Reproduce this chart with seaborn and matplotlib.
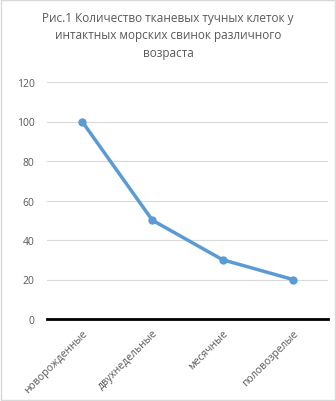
import matplotlib
matplotlib.use("Agg")
import matplotlib.pyplot as plt
import seaborn as sns
import pandas as pd
import numpy as np

categories = ["новорожденные", "двухнедельные", "месячные", "половозрелые"]
values = [100, 50, 30, 20]
yticks = [0, 20, 40, 60, 80, 100, 120]
title = "Рис.1 Количество тканевых тучных клеток у\nинтактных морских свинок различного\nвозраста"

sns.set_theme(style="white")
plt.rcParams['font.family'] = ['Open Sans', 'DejaVu Sans']

df = pd.DataFrame({"cat": categories, "val": values})

fig = plt.figure(figsize=(3.36, 4.02), dpi=100)
fig.patch.set_facecolor("white")
ax = fig.add_axes([47/336, 1-320/402, (328-47)/336, (320-83)/402])

sns.lineplot(data=df, x="cat", y="val", ax=ax, color="#5B9BD5", linewidth=2.5,
             marker="o", markersize=6, markeredgewidth=0, sort=False)

ax.set_xlim(-0.5, len(categories) - 0.5)
ax.set_ylim(0, 120)
ax.set_yticks(yticks)
ax.set_yticklabels([str(v) for v in yticks], color="#595959", fontsize=7.5)
ax.yaxis.grid(True, color="#D9D9D9", linewidth=0.8)
ax.set_axisbelow(True)
ax.tick_params(axis="y", length=0, pad=9)

ax.set_xticks(range(len(categories)))
ax.set_xticklabels(categories, rotation=45, ha="right", rotation_mode="anchor",
                   color="#595959", fontsize=7.5)
ax.tick_params(axis="x", which="major", length=0, pad=6)
ax.set_xticks(np.arange(-0.5, len(categories)), minor=True)
ax.tick_params(axis="x", which="minor", length=3, width=1.5, color="black", direction="out")

for s in ["top", "right", "left"]:
    ax.spines[s].set_visible(False)
ax.spines["bottom"].set_color("black")
ax.spines["bottom"].set_linewidth(2)
ax.set_xlabel("")
ax.set_ylabel("")

fig.text(0.5, 1-36/402, title, ha="center", va="center", fontsize=8.5,
         color="#595959", linespacing=1.45)

border = plt.Rectangle((0.002, 0.002), 0.996, 0.996, transform=fig.transFigure,
                       fill=False, edgecolor="#D9D9D9", linewidth=1)
fig.patches.append(border)

fig.savefig("out.png", dpi=100)
